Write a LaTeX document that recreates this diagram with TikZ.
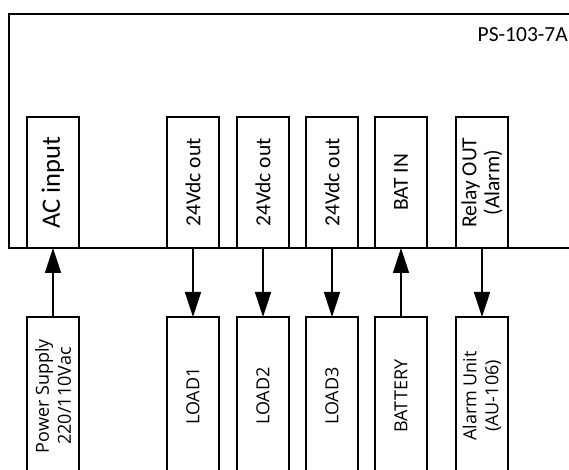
\documentclass[tikz,border=0pt]{standalone}
\usepackage{fontspec}
\setmainfont{Carlito}
\newfontfamily\devfont{Open Sans}
\usetikzlibrary{arrows.meta, positioning}
\tikzset{
    % --- box styles ---
    portBox/.style={
        draw, line width=1.6pt, fill=white,
        minimum width=52pt, minimum height=131pt,
        inner sep=0pt, outer sep=0pt
    },
    devBox/.style={portBox, minimum height=158pt},
    % --- text styles ---
    portText/.style={rotate=90, align=center, font=\fontsize{21.5}{23}\selectfont},
    devText/.style={rotate=90, align=center, font=\devfont\fontsize{18}{22}\selectfont},
    % --- connectors ---
    conn/.style={
        line width=1.6pt,
        -{Triangle[length=25pt, width=16pt]}
    }
}

\begin{document}
\begin{tikzpicture}[x=1pt, y=1pt]

    \useasboundingbox (0,0) rectangle (569,470);
    \clip (0,0) rectangle (569,470);

    % power supply unit
    \draw [line width=1.6pt] (9,222) rectangle (640,456);
    \node [anchor=east, inner sep=0pt, font=\fontsize{21.5}{24}\selectfont] (model) at (568,435) {PS-103-7A};

    % ports
    \node [portBox, anchor=south] (acIn) at (53,222) {};
    \node [portBox, anchor=south] (outA) at (193,222) {};
    \node [portBox, anchor=south] (outB) at (263,222) {};
    \node [portBox, anchor=south] (outC) at (332,222) {};
    \node [portBox, anchor=south] (batIn) at (401,222) {};
    \node [portBox, anchor=south] (relayOut) at (482,222) {};

    \node [portText, font=\fontsize{26.5}{29}\selectfont] at (acIn.center) {AC input};
    \node [portText] at (outA.center) {24Vdc out};
    \node [portText] at (outB.center) {24Vdc out};
    \node [portText] at (outC.center) {24Vdc out};
    \node [portText] at (batIn.center) {BAT IN};
    \node [portText] at (relayOut.center) {Relay OUT\\(Alarm)};

    % external devices
    \node [devBox, below=69pt of acIn] (mains) {};
    \node [devBox, below=69pt of outA] (loadA) {};
    \node [devBox, below=69pt of outB] (loadB) {};
    \node [devBox, below=69pt of outC] (loadC) {};
    \node [devBox, below=69pt of batIn] (battery) {};
    \node [devBox, below=69pt of relayOut] (alarm) {};

    \node [devText] at (mains.center) {Power Supply\\220/110Vac};
    \node [devText] at (loadA.center) {LOAD1};
    \node [devText] at (loadB.center) {LOAD2};
    \node [devText] at (loadC.center) {LOAD3};
    \node [devText] at (battery.center) {BATTERY};
    \node [devText] at (alarm.center) {Alarm Unit\\(AU-106)};

    % connections
    \draw [conn] (mains) -- (acIn);
    \draw [conn] (outA) -- (loadA);
    \draw [conn] (outB) -- (loadB);
    \draw [conn] (outC) -- (loadC);
    \draw [conn] (battery) -- (batIn);
    \draw [conn] (relayOut) -- (alarm);

\end{tikzpicture}
\end{document}
